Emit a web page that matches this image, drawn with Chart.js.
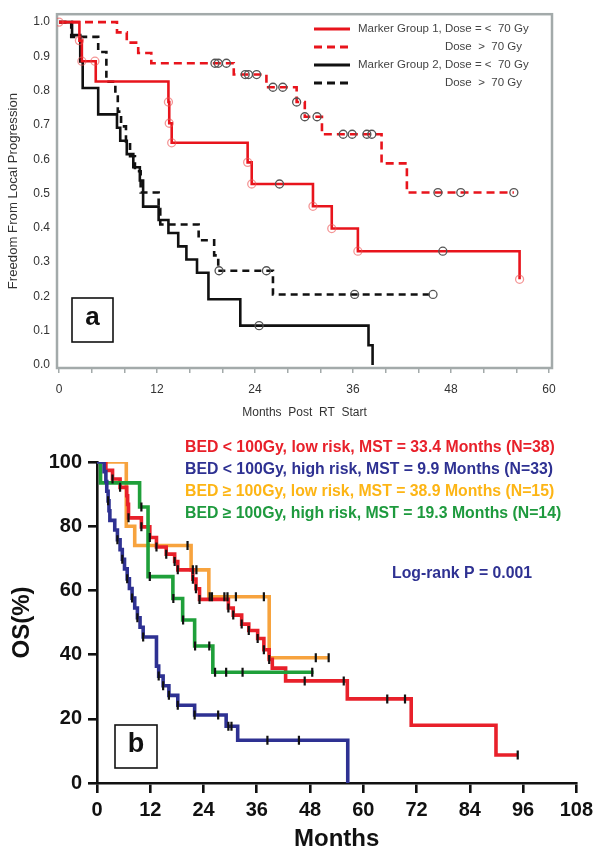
<!DOCTYPE html>
<html>
<head>
<meta charset="utf-8">
<script src="https://cdn.jsdelivr.net/npm/chart.js@4.4.0/dist/chart.umd.min.js"></script>
<style>
html,body{margin:0;padding:0;background:#fff;}
#chartA{position:absolute;left:0;top:0;}
#chartB{position:absolute;left:0;top:425px;}
</style>
</head>
<body>
<canvas id="chartA" width="598" height="425"></canvas>
<canvas id="chartB" width="598" height="433"></canvas>
<script>
const FONT = '"Liberation Sans", Arial, Helvetica, sans-serif';

// ---------- panel a : freedom from local progression ----------
const monthTicksA = [0,4,8,12,16,20,24,28,32,36,40,44,48,52,56,60];
const monthLabelsA = ['0','','','12','','','24','','','36','','','48','','','60'];
const fflpTicks = [0,0.1,0.2,0.3,0.4,0.5,0.6,0.7,0.8,0.9,1.0];
const fflpLabels = ['0.0','0.1','0.2','0.3','0.4','0.5','0.6','0.7','0.8','0.9','1.0'];

const groupPrefixA = ['Marker Group 1, ', '', 'Marker Group 2, ', ''];
const doseLabelsA = ['Dose = <  70 Gy', 'Dose  >  70 Gy', 'Dose = <  70 Gy', 'Dose  >  70 Gy'];

// marker group 1, dose <= 70
const g1LowT = [0, 2.5, 2.8, 4.5, 13.4, 13.5, 13.8, 23.1, 23.6, 31.1, 33.4, 36.6, 56.4];
const g1LowS = [1, 0.946, 0.886, 0.827, 0.767, 0.705, 0.648, 0.591, 0.528, 0.463, 0.398, 0.332, 0.25];
const g1LowEnd = 56.4;
const g1LowPink = [0, 2.5, 2.8, 4.4, 13.4, 13.5, 13.8, 23.1, 23.6, 31.1, 33.4, 36.6, 56.4];
const g1LowGrey = [27, 47];

// marker group 1, dose > 70
const g1HighT = [0, 7.1, 8.3, 9.7, 11.3, 21.4, 25.4, 29.1, 30.1, 32.2, 39.5, 42.6];
const g1HighS = [1, 0.97, 0.94, 0.91, 0.88, 0.847, 0.81, 0.767, 0.724, 0.673, 0.588, 0.503];
const g1HighEnd = 55.7;
const g1HighGrey = [19.1, 19.5, 20.5, 22.8, 23.2, 24.2, 26.2, 27.4, 29.1, 30.1, 31.6, 34.8, 35.9, 37.7, 38.3, 46.4, 49.2, 55.7];

// marker group 2, dose <= 70
const g2LowT = [0, 1.6, 2.6, 2.9, 4.8, 7.1, 7.5, 8.3, 9.1, 9.9, 10.3, 12.2, 13.4, 14.6, 15.6, 16.9, 18.3, 22.2, 37.9, 38.4];
const g2LowS = [1, 0.962, 0.885, 0.808, 0.731, 0.692, 0.654, 0.615, 0.577, 0.538, 0.462, 0.423, 0.385, 0.346, 0.308, 0.269, 0.192, 0.115, 0.058, 0];
const g2LowEnd = 38.4;
const g2LowGrey = [24.5];

// marker group 2, dose > 70
const g2HighT = [0, 1.5, 4.8, 5.8, 6.9, 7.2, 7.6, 8.2, 8.7, 9.3, 10.0, 12.2, 12.4, 17.1, 19.0, 19.5, 26.2];
const g2HighS = [1, 0.957, 0.913, 0.826, 0.783, 0.739, 0.696, 0.652, 0.609, 0.565, 0.503, 0.455, 0.41, 0.364, 0.32, 0.275, 0.206];
const g2HighEnd = 45.8;
const g2HighGrey = [19.6, 25.4, 36.2, 45.8];

// ---------- panel b : overall survival ----------
const monthTicksB = [0,12,24,36,48,60,72,84,96,108];
const osTicks = [0,20,40,60,80,100];

const legendB = [
  'BED < 100Gy, low risk, MST = 33.4 Months (N=38)',
  'BED < 100Gy, high risk, MST = 9.9 Months (N=33)',
  'BED \u2265 100Gy, low risk, MST = 38.9 Months (N=15)',
  'BED \u2265 100Gy, high risk, MST = 19.3 Months (N=14)'
];
const pValueText = 'Log-rank P = 0.001';

const redT = [0, 2.0, 3.5, 5.2, 6.7, 6.9, 7.1, 10.0, 11.9, 13.4, 15.6, 17.5, 18.2, 21.6, 22.3, 23.1, 29.6, 30.7, 32.6, 34.2, 36.2, 37.6, 38.8, 39.5, 42.5, 56.4, 70.8, 89.9];
const redS = [100, 97.4, 94.7, 92.1, 89.5, 86.8, 82.6, 79.8, 76.5, 73.5, 71.3, 69, 66.4, 63.5, 60.5, 57.2, 54.5, 52.3, 49.5, 47.5, 45, 41.5, 38.5, 35.8, 31.8, 26.2, 18, 8.7];
const redEnd = 94.8;
const redCens = [3.5, 5.2, 7.1, 10.0, 11.9, 13.4, 15.6, 17.5, 18.2, 21.6, 22.3, 23.1, 29.6, 30.7, 32.6, 34.2, 36.2, 37.6, 38.8, 46.8, 55.6, 65.4, 69.4, 94.8];

const blueT = [0, 1.6, 2.0, 2.2, 2.5, 2.7, 2.9, 4.0, 4.6, 5.2, 5.7, 6.2, 6.8, 7.3, 7.9, 8.5, 9.1, 9.7, 10.4, 13.4, 13.9, 14.9, 16.2, 18.2, 22.0, 29.1, 31.7, 56.5];
const blueS = [100, 97, 93.9, 90.9, 87.9, 84.8, 81.8, 78.8, 75.8, 72.7, 69.7, 66.7, 63.6, 60.6, 57.6, 54.5, 51.5, 48.5, 45.5, 36.4, 33.3, 30.3, 27.3, 24.2, 21.2, 17.7, 13.3, 0];
const blueEnd = 56.5;
const blueCens = [2.5, 4.6, 5.7, 6.8, 7.9, 9.1, 10.4, 13.9, 14.9, 16.2, 18.2, 22.0, 27.3, 29.6, 30.3, 38.4, 45.5];

const orangeT = [0, 6.6, 8.5, 21.2, 25.2, 38.8];
const orangeS = [100, 80, 74, 66.4, 58, 39];
const orangeEnd = 52.2;
const orangeCens = [20.4, 21.6, 22.4, 25.4, 25.9, 28.7, 29.4, 31.3, 37.6, 49.3, 52.2];

const greenT = [0, 0.8, 9.6, 11.5, 17.1, 19.3, 22.0, 26.1];
const greenS = [100, 93.5, 86, 64.3, 57.5, 50.8, 42.7, 34.5];
const greenEnd = 48.8;
const greenCens = [10.0, 11.9, 17.2, 19.4, 22.1, 25.3, 26.6, 29.1, 32.8, 48.5];

// helpers
function stepAt(ts, ss, t) {
  let v = ss[0];
  for (let i = 0; i < ts.length; i++) if (ts[i] <= t) v = ss[i];
  return v;
}
function curve(ts, ss, end) {
  const pts = ts.map((t, i) => ({x: t, y: ss[i]}));
  if (end > ts[ts.length - 1]) pts.push({x: end, y: ss[ss.length - 1]});
  return pts;
}
function marks(ts, ss, times) {
  return times.map(t => ({x: t, y: stepAt(ts, ss, t)}));
}

const RED_A = '#e8141c';
const BLACK_A = '#111111';
const PINK = 'rgba(236,80,80,0.6)';
const GREY = '#555555';

function kmLine(label, data, color, dash) {
  return {type: 'line', label, data, borderColor: color, borderWidth: 2.6, borderDash: dash,
    stepped: 'before', pointRadius: 0, fill: false, order: 2};
}
function circles(data, color) {
  return {type: 'scatter', data, pointStyle: 'circle', pointRadius: 4, pointBorderWidth: 1.3,
    pointBorderColor: color, pointBackgroundColor: 'rgba(0,0,0,0)', order: 1};
}

const linesA = [
  kmLine(doseLabelsA[0], curve(g1LowT, g1LowS, g1LowEnd), RED_A, []),
  kmLine(doseLabelsA[1], curve(g1HighT, g1HighS, g1HighEnd), RED_A, [8, 5]),
  kmLine(doseLabelsA[2], curve(g2LowT, g2LowS, g2LowEnd), BLACK_A, []),
  kmLine(doseLabelsA[3], curve(g2HighT, g2HighS, g2HighEnd), BLACK_A, [7, 5])
];

const legendPluginA = {
  id: 'legendA',
  beforeDatasetsDraw(chart) {
    const {ctx, chartArea: a} = chart;
    ctx.save();
    ctx.strokeStyle = '#a3aaaa';
    ctx.lineWidth = 2.5;
    ctx.strokeRect(a.left, a.top, a.right - a.left, a.bottom - a.top);
    ctx.restore();
  },
  afterDraw(chart) {
    const {ctx} = chart;
    ctx.save();
    ctx.font = '11.5px ' + FONT;
    ctx.textBaseline = 'middle';
    const indent = ctx.measureText(groupPrefixA[0]).width;
    linesA.forEach((d, i) => {
      const y = 29 + i * 18;
      ctx.strokeStyle = d.borderColor;
      ctx.lineWidth = 3;
      ctx.setLineDash(d.borderDash.length ? [8, 5] : []);
      ctx.beginPath();
      ctx.moveTo(314, y);
      ctx.lineTo(350, y);
      ctx.stroke();
      ctx.setLineDash([]);
      ctx.fillStyle = '#444';
      ctx.fillText(groupPrefixA[i] + d.label, groupPrefixA[i] ? 358 : 358 + indent, y);
    });
    // panel letter
    ctx.strokeStyle = '#111';
    ctx.lineWidth = 1.6;
    ctx.strokeRect(72, 298, 41, 44);
    ctx.fillStyle = '#111';
    ctx.font = 'bold 26px ' + FONT;
    ctx.textAlign = 'center';
    ctx.fillText('a', 92.5, 318);
    ctx.restore();
  }
};

new Chart(document.getElementById('chartA'), {
  type: 'line',
  data: {
    datasets: [
      ...linesA,
      circles(marks(g1LowT, g1LowS, g1LowPink), PINK),
      circles(marks(g1LowT, g1LowS, g1LowGrey), GREY),
      circles(marks(g1HighT, g1HighS, g1HighGrey), GREY),
      circles(marks(g2LowT, g2LowS, g2LowGrey), GREY),
      circles(marks(g2HighT, g2HighS, g2HighGrey), GREY)
    ]
  },
  options: {
    responsive: false,
    animation: false,
    layout: {padding: {left: 0, top: 5, right: 46, bottom: 0}},
    plugins: {legend: {display: false}, tooltip: {enabled: false}},
    scales: {
      x: {
        type: 'linear', min: -0.245, max: 60.37,
        afterBuildTicks: s => { s.ticks = monthTicksA.map(v => ({value: v})); },
        afterFit: s => { s.height = 57; },
        border: {display: false},
        grid: {drawOnChartArea: false, drawTicks: true, tickLength: 5, color: '#a3aaaa', lineWidth: 1.5},
        ticks: {autoSkip: false, maxRotation: 0, padding: 9, color: '#333',
          font: {family: FONT, size: 12}, callback: (v, i) => monthLabelsA[i]},
        title: {display: true, text: 'Months  Post  RT  Start', color: '#333',
          font: {family: FONT, size: 12}, padding: {top: 0, bottom: 5}}
      },
      y: {
        type: 'linear', min: -0.0085, max: 1.023,
        afterBuildTicks: s => { s.ticks = fflpTicks.map(v => ({value: v})); },
        afterFit: s => { s.width = 57; },
        border: {display: false},
        grid: {display: false, drawTicks: false, tickLength: 0},
        ticks: {padding: 7, color: '#333', font: {family: FONT, size: 12},
          callback: (v, i) => fflpLabels[i]},
        title: {display: true, text: 'Freedom From Local Progression', color: '#333',
          font: {family: FONT, size: 13.2}, padding: {top: 5, bottom: 0}}
      }
    }
  },
  plugins: [legendPluginA]
});

// ---------- panel b chart ----------
const RED_B = '#e8202a';
const BLUE_B = '#2e3192';
const ORANGE_B = '#f7a33e';
const GREEN_B = '#1fa03a';
const legendColorsB = ['#e8202a', '#2e3192', '#fdb515', '#1e9a3e'];

function osLine(data, color) {
  return {type: 'line', data, borderColor: color, borderWidth: 3.6, stepped: 'before',
    pointRadius: 0, fill: false, order: 2};
}
function censTicks(data) {
  return {type: 'scatter', data, pointStyle: 'line', rotation: 90, pointRadius: 4.5,
    pointBorderWidth: 2.2, pointBorderColor: '#111', pointBackgroundColor: '#111', order: 1};
}

const legendPluginB = {
  id: 'legendB',
  afterDraw(chart) {
    const {ctx} = chart;
    ctx.save();
    ctx.font = 'bold 15.8px ' + FONT;
    ctx.textBaseline = 'middle';
    legendB.forEach((t, i) => {
      ctx.fillStyle = legendColorsB[i];
      ctx.fillText(t, 185, 23 + i * 22);
    });
    ctx.fillStyle = BLUE_B;
    ctx.fillText(pValueText, 392, 149);
    ctx.strokeStyle = '#111';
    ctx.lineWidth = 1.6;
    ctx.strokeRect(115, 300, 42, 43);
    ctx.fillStyle = '#111';
    ctx.font = 'bold 27px ' + FONT;
    ctx.textAlign = 'center';
    ctx.fillText('b', 136, 320);
    ctx.restore();
  }
};

new Chart(document.getElementById('chartB'), {
  type: 'line',
  data: {
    datasets: [
      osLine(curve(blueT, blueS, blueEnd), BLUE_B),
      osLine(curve(greenT, greenS, greenEnd), GREEN_B),
      osLine(curve(redT, redS, redEnd), RED_B),
      osLine(curve(orangeT, orangeS, orangeEnd), ORANGE_B),
      censTicks(marks(blueT, blueS, blueCens)),
      censTicks(marks(greenT, greenS, greenCens)),
      censTicks(marks(redT, redS, redCens)),
      censTicks(marks(orangeT, orangeS, orangeCens))
    ]
  },
  options: {
    responsive: false,
    animation: false,
    layout: {padding: {left: 0, top: 37, right: 19, bottom: 0}},
    plugins: {legend: {display: false}, tooltip: {enabled: false}},
    scales: {
      x: {
        type: 'linear', min: 0, max: 108,
        afterBuildTicks: s => { s.ticks = monthTicksB.map(v => ({value: v})); },
        afterFit: s => { s.height = 75; },
        border: {display: true, color: '#111', width: 2.6},
        grid: {drawOnChartArea: false, drawTicks: true, tickLength: 10, color: '#111', lineWidth: 2.6},
        ticks: {autoSkip: false, maxRotation: 0, padding: 5, color: '#111',
          font: {family: FONT, size: 20, weight: 'bold'}},
        title: {display: true, text: 'Months', color: '#111',
          font: {family: FONT, size: 24, weight: 'bold'}, padding: {top: 0, bottom: 4}}
      },
      y: {
        type: 'linear', min: 0, max: 100,
        afterBuildTicks: s => { s.ticks = osTicks.map(v => ({value: v})); },
        afterFit: s => { s.width = 97; },
        border: {display: true, color: '#111', width: 2.6},
        grid: {drawOnChartArea: false, drawTicks: true, tickLength: 9, color: '#111', lineWidth: 2.6},
        ticks: {padding: 6, color: '#111', font: {family: FONT, size: 20, weight: 'bold'}},
        title: {display: true, text: 'OS(%)', color: '#111',
          font: {family: FONT, size: 24, weight: 'bold'}, padding: {top: 8, bottom: 0}}
      }
    }
  },
  plugins: [legendPluginB]
});
</script>
</body>
</html>
